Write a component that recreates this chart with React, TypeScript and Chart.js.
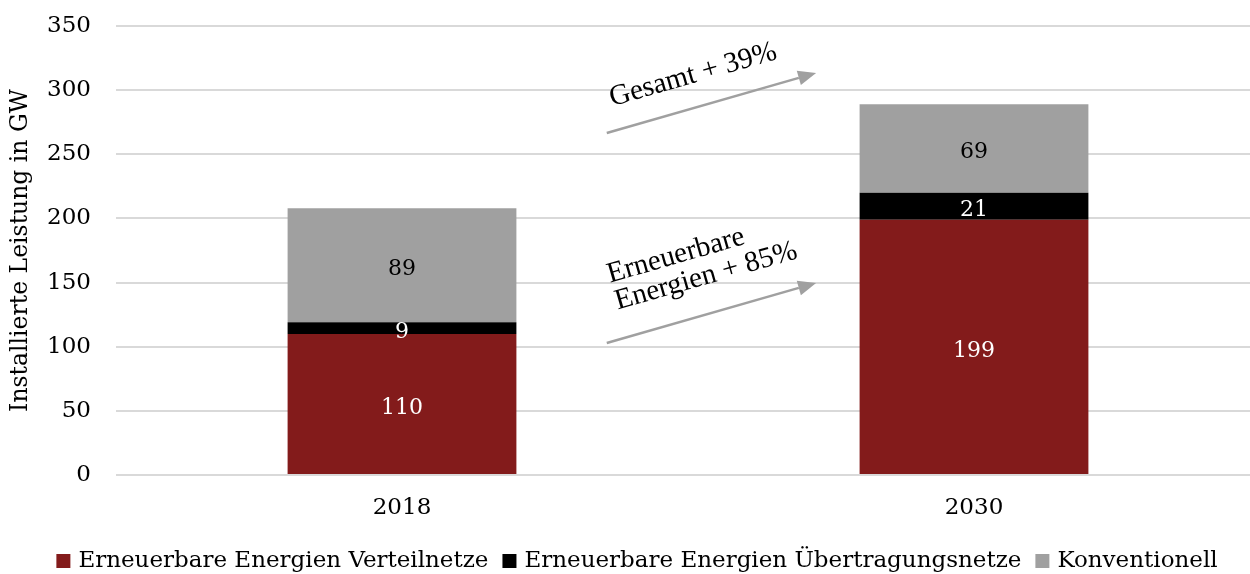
import React, { useEffect, useRef } from "react";
import { Chart, registerables } from "chart.js";

Chart.register(...registerables);

const categories = ["2018", "2030"];
const verteilnetze = [110, 199];
const uebertragungsnetze = [9, 21];
const konventionell = [89, 69];
const seriesNames = [
  "Erneuerbare Energien Verteilnetze",
  "Erneuerbare Energien Übertragungsnetze",
  "Konventionell",
];
const yTicks = [0, 50, 100, 150, 200, 250, 300, 350];
const annotationTexts = [["Gesamt + 39%"], ["Erneuerbare", "Energien + 85%"]];

const COLORS = ["#831B1B", "#000000", "#A0A0A0"];
const LABEL_COLORS = ["#FFFFFF", "#FFFFFF", "#000000"];
const SERIF = "'DejaVu Serif', Georgia, serif";
const ANNO_FONT = "'Liberation Serif', 'Times New Roman', serif";

// annotation arrows: x as fractional category index, y as axis value
const annotationGeom = [
  { from: [0.358, 266.6], to: [0.724, 313.4], textAt: [0.364, 293.2] },
  { from: [0.358, 102.9], to: [0.724, 149.7], textAt: [0.36, 155.6] },
];

const labelPlugin = {
  id: "segLabels",
  afterDatasetsDraw(chart: any) {
    const ctx = chart.ctx;
    ctx.save();
    ctx.font = `22px ${SERIF}`;
    ctx.textAlign = "center";
    ctx.textBaseline = "middle";
    chart.data.datasets.forEach((ds: any, i: number) => {
      const meta = chart.getDatasetMeta(i);
      meta.data.forEach((el: any, j: number) => {
        const v = ds.data[j];
        const y = (el.y + el.base) / 2;
        ctx.fillStyle = LABEL_COLORS[i];
        ctx.fillText(String(v), el.x, y + 4);
      });
    });
    ctx.restore();
  },
};

const legendPlugin = {
  id: "bottomLegend",
  afterDraw(chart: any) {
    const ctx = chart.ctx;
    ctx.save();
    ctx.font = `23px ${SERIF}`;
    ctx.textBaseline = "middle";
    ctx.textAlign = "left";
    const box = 14;
    const gapBox = 8;
    const gapItem = 14;
    const items = chart.data.datasets.map((ds: any) => ({
      label: ds.label,
      color: ds.backgroundColor,
      w: ctx.measureText(ds.label).width,
    }));
    const total =
      items.reduce((s: number, it: any) => s + box + gapBox + it.w, 0) + gapItem * (items.length - 1);
    let x = chart.width / 2 + 6 - total / 2;
    const yc = chart.height - 13;
    items.forEach((it: any) => {
      ctx.fillStyle = it.color;
      ctx.fillRect(x, yc - box / 2, box, box);
      x += box + gapBox;
      ctx.fillStyle = "#000";
      ctx.fillText(it.label, x, yc);
      x += it.w + gapItem;
    });
    ctx.restore();
  },
};

const arrowPlugin = {
  id: "arrows",
  afterDraw(chart: any) {
    const xs = chart.scales.x;
    const ys = chart.scales.y;
    const px = (f: number) => {
      const a = xs.getPixelForValue(0);
      const b = xs.getPixelForValue(1);
      return a + f * (b - a);
    };
    const ctx = chart.ctx;
    ctx.save();
    annotationGeom.forEach((an, idx) => {
      const x1 = px(an.from[0]);
      const y1 = ys.getPixelForValue(an.from[1]);
      const x2 = px(an.to[0]);
      const y2 = ys.getPixelForValue(an.to[1]);
      const ang = Math.atan2(y2 - y1, x2 - x1);
      const head = 18;
      const hw = 7.5;
      const bx = x2 - head * Math.cos(ang);
      const by = y2 - head * Math.sin(ang);
      ctx.strokeStyle = "#A0A0A0";
      ctx.fillStyle = "#A0A0A0";
      ctx.lineWidth = 2.5;
      ctx.beginPath();
      ctx.moveTo(x1, y1);
      ctx.lineTo(bx, by);
      ctx.stroke();
      ctx.beginPath();
      ctx.moveTo(x2, y2);
      ctx.lineTo(bx + hw * Math.sin(ang), by - hw * Math.cos(ang));
      ctx.lineTo(bx - hw * Math.sin(ang), by + hw * Math.cos(ang));
      ctx.closePath();
      ctx.fill();

      const tx = px(an.textAt[0]);
      const ty = ys.getPixelForValue(an.textAt[1]);
      ctx.save();
      ctx.translate(tx, ty);
      ctx.rotate(ang);
      ctx.fillStyle = "#000000";
      ctx.font = `29px ${ANNO_FONT}`;
      ctx.textAlign = "left";
      ctx.textBaseline = "middle";
      const lh = 28;
      annotationTexts[idx].forEach((ln, k) => {
        ctx.fillText(ln, 0, k * lh);
      });
      ctx.restore();
    });
    ctx.restore();
  },
};

export default function App() {
  const ref = useRef<HTMLCanvasElement>(null);
  useEffect(() => {
    document.body.style.margin = "0";
    document.body.style.overflow = "hidden";
    const chart = new Chart(ref.current!, {
      type: "bar",
      data: {
        labels: categories,
        datasets: [
          { label: seriesNames[0], data: verteilnetze, backgroundColor: COLORS[0] },
          { label: seriesNames[1], data: uebertragungsnetze, backgroundColor: COLORS[1] },
          { label: seriesNames[2], data: konventionell, backgroundColor: COLORS[2] },
        ],
      },
      options: {
        animation: false,
        responsive: false,
        maintainAspectRatio: false,
        layout: { padding: { top: 26, left: 0, right: 2, bottom: 0 } },
        datasets: { bar: { categoryPercentage: 1, barPercentage: 0.4 } },
        scales: {
          x: {
            stacked: true,
            grid: { display: false, drawTicks: false },
            border: { display: false },
            ticks: { color: "#000", font: { family: SERIF, size: 23 }, padding: 19 },
            afterFit: (s: any) => {
              s.height = 99;
            },
          },
          y: {
            stacked: true,
            min: 0,
            max: 350,
            afterBuildTicks: (s: any) => {
              s.ticks = yTicks.map((v) => ({ value: v }));
            },
            afterFit: (s: any) => {
              s.width = 116;
              s.paddingTop = 0;
              s.paddingBottom = 0;
            },
            grid: { color: "#D9D9D9", lineWidth: 2, drawTicks: false },
            border: { display: false },
            ticks: { color: "#000", font: { family: SERIF, size: 23 }, padding: 25 },
            title: {
              display: true,
              text: "Installierte Leistung in GW",
              color: "#000",
              font: { family: SERIF, size: 23.5 },
              padding: { top: 7, bottom: 0 },
            },
          },
        },
        plugins: {
          tooltip: { enabled: false },
          legend: { display: false },
        },
      },
      plugins: [labelPlugin, arrowPlugin, legendPlugin],
    });
    return () => chart.destroy();
  }, []);
  return (
    <div style={{ position: "fixed", left: 0, top: 0, width: 1250, height: 574, overflow: "hidden" }}>
      <canvas ref={ref} width={1262} height={574} style={{ display: "block" }} />
    </div>
  );
}
